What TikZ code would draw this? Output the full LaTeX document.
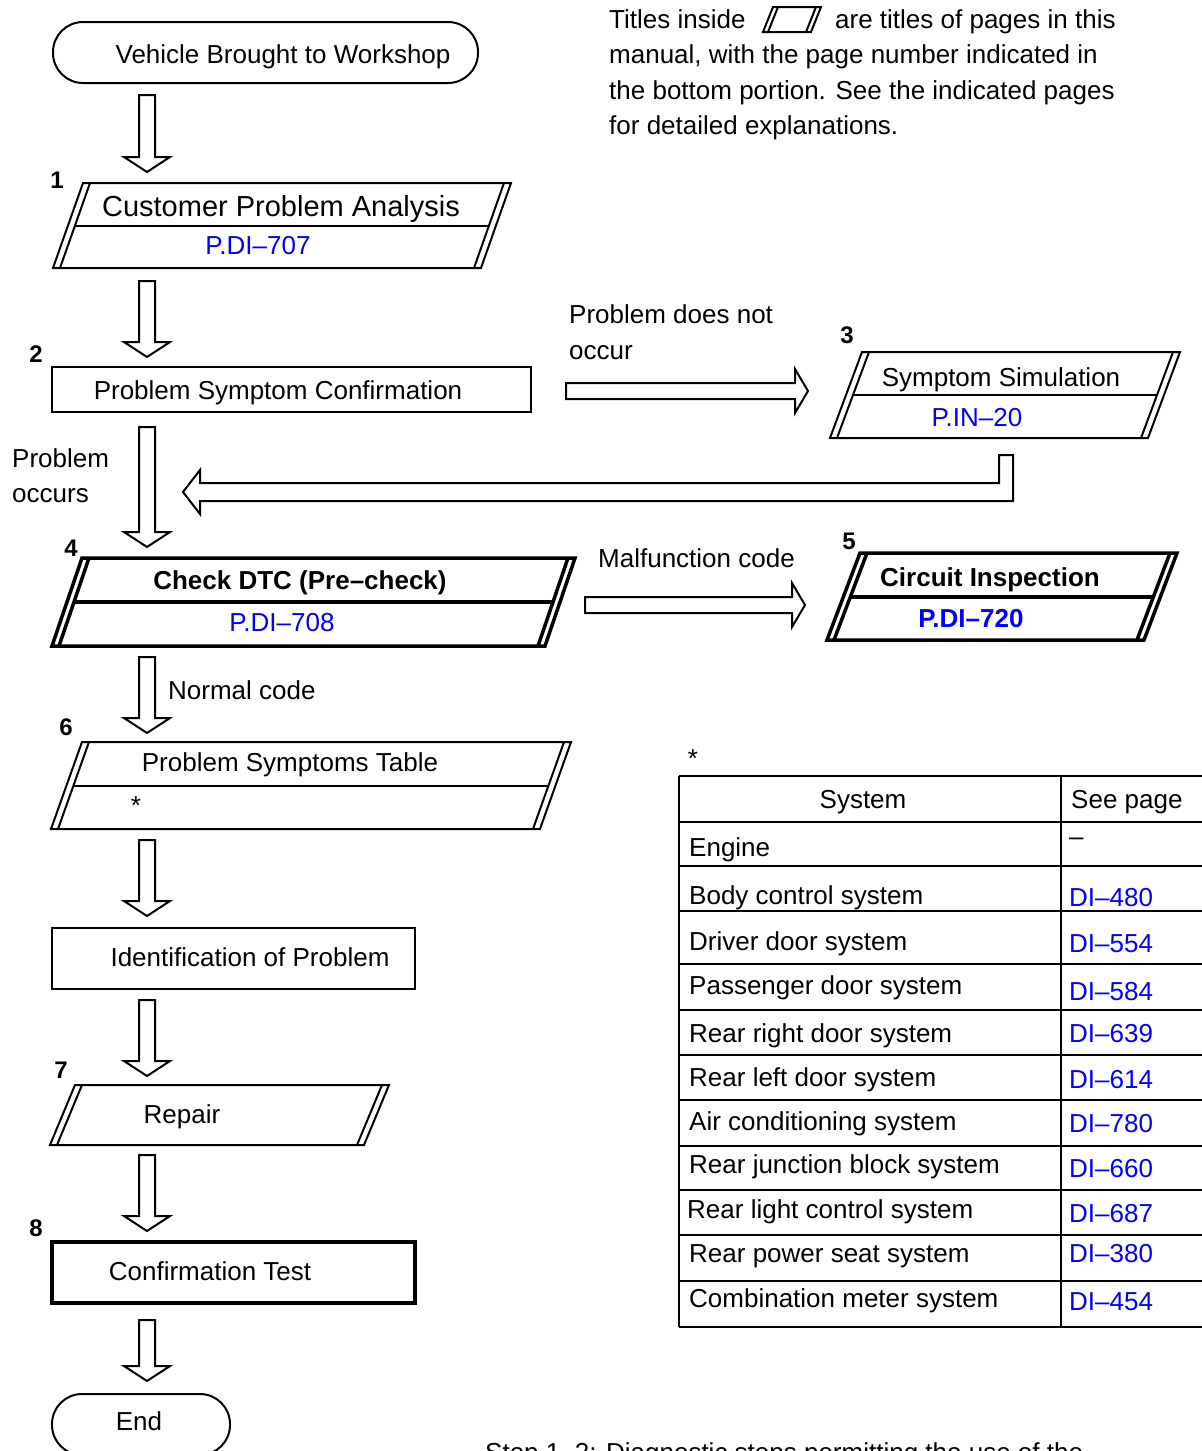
\documentclass[tikz,border=0pt]{standalone}
\usepackage{fontspec}
\setmainfont{Liberation Sans}
\tikzset{
 txt/.style={font=\fontsize{26}{31}\selectfont, inner sep=0pt, text height=18.6pt, text depth=0pt},
 bigtxt/.style={font=\fontsize{29}{34}\selectfont, inner sep=0pt, text height=20.8pt, text depth=0pt},
 bldtxt/.style={font=\fontsize{26}{31}\selectfont\bfseries, inner sep=0pt, text height=18.6pt, text depth=0pt},
 numtxt/.style={font=\fontsize{24}{28}\selectfont\bfseries, inner sep=0pt, text height=17.2pt, text depth=0pt},
 pgtxt/.style={txt, text=blue},
 nline/.style={line width=2pt, line join=miter},
 tkline/.style={line width=3.5pt, line join=miter},
 blk/.style={line width=2pt, line join=miter},
 tline/.style={line width=1.5pt},
}
\newcommand{\DPara}[7]{%
 \draw[#1] (#2,#4) -- (#3,#4) -- ({#3-#6},#5) -- ({#2-#6},#5) -- cycle;
 \draw[#1] ({#2+#7},#4) -- ({#2+#7-#6},#5);
 \draw[#1] ({#3-#7},#4) -- ({#3-#7-#6},#5);}
\newcommand{\DArrow}[3]{\draw[blk] ({#1-8},#2) -- ({#1+8},#2) -- ({#1+8},{#3-15}) -- ({#1+23},{#3-15}) -- (#1,#3) -- ({#1-23},{#3-15}) -- ({#1-8},{#3-15}) -- cycle;}
\newcommand{\RArrow}[3]{\draw[blk] (#1,{#2-8}) -- ({#3-13},{#2-8}) -- ({#3-13},{#2-22}) -- (#3,#2) -- ({#3-13},{#2+22}) -- ({#3-13},{#2+8}) -- (#1,{#2+8}) -- cycle;}
\begin{document}
\begin{tikzpicture}[x=1pt,y=-1pt]
\begin{scope}
\clip (0,0) rectangle (1202,1451);
\fill[white] (0,0) rectangle (1202,1451);

% note at top right
\node[txt,anchor=west] (n1a) at (609,19) {Titles inside};
\DPara{line width=2pt}{773}{821}{7}{32}{10}{5}
\node[txt,anchor=west] (n1b) at (835,19) {are titles of pages in this};
\node[txt,anchor=west] (n2) at (609,54) {manual, with the page number indicated in};
\node[txt,anchor=west] (n3) at (609,90) {the bottom portion. See the indicated pages};
\node[txt,anchor=west] (n4) at (609,125) {for detailed explanations.};

% start
\draw[nline, rounded corners=30pt] (53,22) rectangle (478,83);
\node[txt] (start) at (283,54) {Vehicle Brought to Workshop};

% step 1
\node[numtxt] (s1) at (57,180) {1};
\DPara{nline}{83}{511}{183}{268}{30}{7}
\draw[nline] (75,226) -- (489,226);
\node[bigtxt] (b1) at (281,206) {Customer Problem Analysis};
\node[pgtxt] (p1) at (258,245) {P.DI–707};

% step 2
\node[numtxt] (s2) at (36,354) {2};
\draw[nline] (52,367) rectangle (531,412);
\node[txt] (b2) at (278,390) {Problem Symptom Confirmation};

% step 3
\node[numtxt] (s3) at (847,335) {3};
\DPara{nline}{862}{1180}{352}{438}{32}{7}
\draw[nline] (853,395) -- (1157,395);
\node[txt] (b3) at (1001,377) {Symptom Simulation};
\node[pgtxt] (p3) at (977,417) {P.IN–20};

\node[txt,anchor=west] (l1a) at (569,314) {Problem does not};
\node[txt,anchor=west] (l1b) at (569,350) {occur};
\RArrow{566}{391}{808}

% loop back
\draw[blk] (999,455) -- (1013,455) -- (1013,501) -- (200,501) -- (200,514) -- (183,492) -- (200,470) -- (200,483) -- (999,483) -- cycle;
\node[txt,anchor=west] (l2a) at (12,458) {Problem};
\node[txt,anchor=west] (l2b) at (12,493) {occurs};

% step 4
\node[numtxt] (s4) at (71,548) {4};
\DPara{tkline}{82}{575}{558}{646}{30}{7}
\draw[tkline] (74,602) -- (553,602);
\node[bldtxt] (b4) at (300,580) {Check DTC (Pre–check)};
\node[pgtxt] (p4) at (282,622) {P.DI–708};

\node[txt,anchor=west] (l3) at (598,558) {Malfunction code};
\RArrow{585}{605}{805}

% step 5
\node[numtxt] (s5) at (849,541) {5};
\DPara{tkline}{860}{1177}{553}{640}{33}{7}
\draw[tkline] (850,597) -- (1153,597);
\node[bldtxt] (b5) at (990,577) {Circuit Inspection};
\node[bldtxt,text=blue] (p5) at (971,618) {P.DI–720};

\node[txt,anchor=west] (l4) at (168,690) {Normal code};

% step 6
\node[numtxt] (s6) at (66,727) {6};
\DPara{nline}{82}{571}{742}{829}{31}{7}
\draw[nline] (73,786) -- (548,786);
\node[txt] (b6) at (290,762) {Problem Symptoms Table};
\node[txt,anchor=north] (st1) at (136,796) {*};

% identification
\draw[nline] (52,928) rectangle (415,989);
\node[txt] (bid) at (250,957) {Identification of Problem};

% step 7
\node[numtxt] (s7) at (61,1070) {7};
\DPara{nline}{75}{389}{1085}{1145}{25}{7}
\node[txt] (b7) at (182,1114) {Repair};

% step 8
\node[numtxt] (s8) at (36,1228) {8};
\draw[tkline] (52,1242) rectangle (415,1303);
\node[txt] (b8) at (210,1271) {Confirmation Test};

% end
\draw[nline, rounded corners=30pt] (52,1394) rectangle (230,1455);
\node[txt] (endn) at (139,1421) {End};

% down arrows
\DArrow{147}{95}{172}
\DArrow{147}{281}{357}
\DArrow{147}{427}{547}
\DArrow{147}{657}{733}
\DArrow{147}{840}{916}
\DArrow{147}{1000}{1076}
\DArrow{147}{1155}{1231}
\DArrow{147}{1320}{1381}

% table
\node[txt,anchor=north] (st2) at (693,749) {*};
\draw[tline] (679,776) -- (679,1327);
\draw[tline] (1061,776) -- (1061,1327);
\foreach \yy in {776,822,866,911,964,1010,1055,1100,1146,1190,1235,1281,1327}
  \draw[tline] (679,\yy) -- (1202,\yy);
\node[txt] (th1) at (863,799) {System};
\node[txt,anchor=west] (th2) at (1071,799) {See page};
\node[txt,anchor=west] (r1) at (689,847) {Engine};
\node[txt,anchor=west] (v1) at (1069,836) {–};
\node[txt,anchor=west] (r2) at (689,895) {Body control system};
\node[pgtxt,anchor=west] (v2) at (1069,897) {DI–480};
\node[txt,anchor=west] (r3) at (689,941) {Driver door system};
\node[pgtxt,anchor=west] (v3) at (1069,943) {DI–554};
\node[txt,anchor=west] (r4) at (689,985) {Passenger door system};
\node[pgtxt,anchor=west] (v4) at (1069,991) {DI–584};
\node[txt,anchor=west] (r5) at (689,1033) {Rear right door system};
\node[pgtxt,anchor=west] (v5) at (1069,1033) {DI–639};
\node[txt,anchor=west] (r6) at (689,1077) {Rear left door system};
\node[pgtxt,anchor=west] (v6) at (1069,1079) {DI–614};
\node[txt,anchor=west] (r7) at (689,1121) {Air conditioning system};
\node[pgtxt,anchor=west] (v7) at (1069,1123) {DI–780};
\node[txt,anchor=west] (r8) at (689,1164) {Rear junction block system};
\node[pgtxt,anchor=west] (v8) at (1069,1168) {DI–660};
\node[txt,anchor=west] (r9) at (687,1209) {Rear light control system};
\node[pgtxt,anchor=west] (v9) at (1069,1213) {DI–687};
\node[txt,anchor=west] (r10) at (689,1253) {Rear power seat system};
\node[pgtxt,anchor=west] (v10) at (1069,1253) {DI–380};
\node[txt,anchor=west] (r11) at (689,1298) {Combination meter system};
\node[pgtxt,anchor=west] (v11) at (1069,1301) {DI–454};

% cut-off footnote
\node[txt,anchor=north west] (foot) at (485,1443) {Step 1, 2: Diagnostic steps permitting the use of the};
\end{scope}
\pgfresetboundingbox
\path[use as bounding box] (0,0) rectangle (1202,1451);
\end{tikzpicture}
\end{document}
